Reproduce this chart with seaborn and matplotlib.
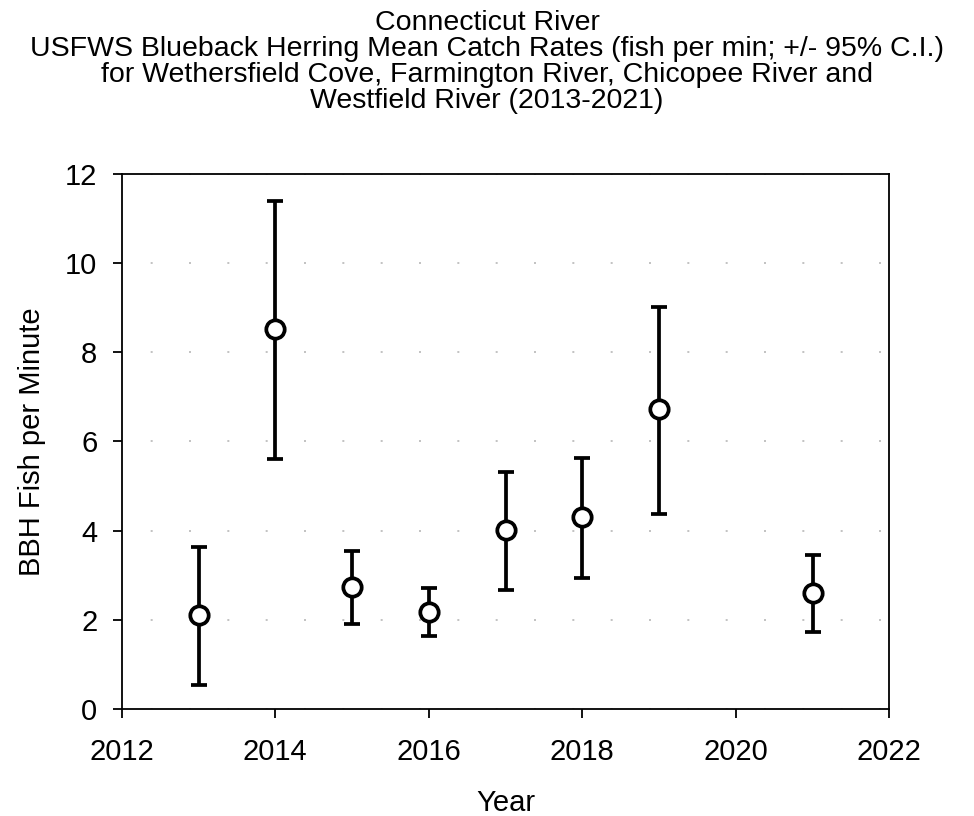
import matplotlib
matplotlib.use("Agg")
import matplotlib.pyplot as plt
import seaborn as sns
import numpy as np
import pandas as pd

# Blueback herring mean catch rates with 95% confidence limits
years = [2013, 2014, 2015, 2016, 2017, 2018, 2019, 2021]
mean_rate = [2.10, 8.52, 2.74, 2.18, 4.01, 4.30, 6.72, 2.61]
ci_lower = [0.55, 5.61, 1.91, 1.63, 2.67, 2.93, 4.38, 1.73]
ci_upper = [3.63, 11.39, 3.55, 2.72, 5.32, 5.64, 9.01, 3.46]

df = pd.DataFrame({"Year": years, "Rate": mean_rate,
                   "Lower": ci_lower, "Upper": ci_upper})

sns.set_theme(style="white")
plt.rcParams["font.family"] = ["Liberation Sans", "DejaVu Sans"]

fig = plt.figure(figsize=(9.74, 8.16), dpi=100)
ax = fig.add_axes([0.125, 0.131, 0.788, 0.656])

yerr = np.vstack([df["Rate"] - df["Lower"], df["Upper"] - df["Rate"]])
ax.errorbar(df["Year"], df["Rate"], yerr=yerr, fmt="none", ecolor="black",
            elinewidth=2.7, capsize=5.5, capthick=2.7, zorder=2)
sns.scatterplot(data=df, x="Year", y="Rate", ax=ax, marker="o", s=175,
                facecolor="white", edgecolor="black", linewidth=2.7, zorder=3)

ax.set_xlim(2012, 2022)
ax.set_ylim(0, 12)
ax.set_xticks(range(2012, 2023, 2))
ax.set_yticks(range(0, 13, 2))
ax.yaxis.grid(True, color="#b8b8b8", linestyle=(5.8, (1.2, 21.8)), linewidth=1.2)
ax.xaxis.grid(False)
for s in ax.spines.values():
    s.set_color("black")
    s.set_linewidth(1.3)
ax.tick_params(axis="both", which="major", direction="out", length=6.5,
               width=1.3, color="black", labelsize=21, labelcolor="black",
               bottom=True, left=True)
ax.tick_params(axis="x", pad=14)
ax.tick_params(axis="y", pad=11)
ax.set_xlabel("Year", fontsize=21, color="black", labelpad=17)
ax.set_ylabel("BBH Fish per Minute", fontsize=21, color="black", labelpad=14)

fig.suptitle("Connecticut River\n"
             "USFWS Blueback Herring Mean Catch Rates (fish per min; +/- 95% C.I.)\n"
             "for Wethersfield Cove, Farmington River, Chicopee River and\n"
             "Westfield River (2013-2021)",
             x=0.5, y=0.988, fontsize=20.5, color="black", linespacing=1.0,
             va="top")

fig.savefig("out.png", dpi=100, facecolor="white")
